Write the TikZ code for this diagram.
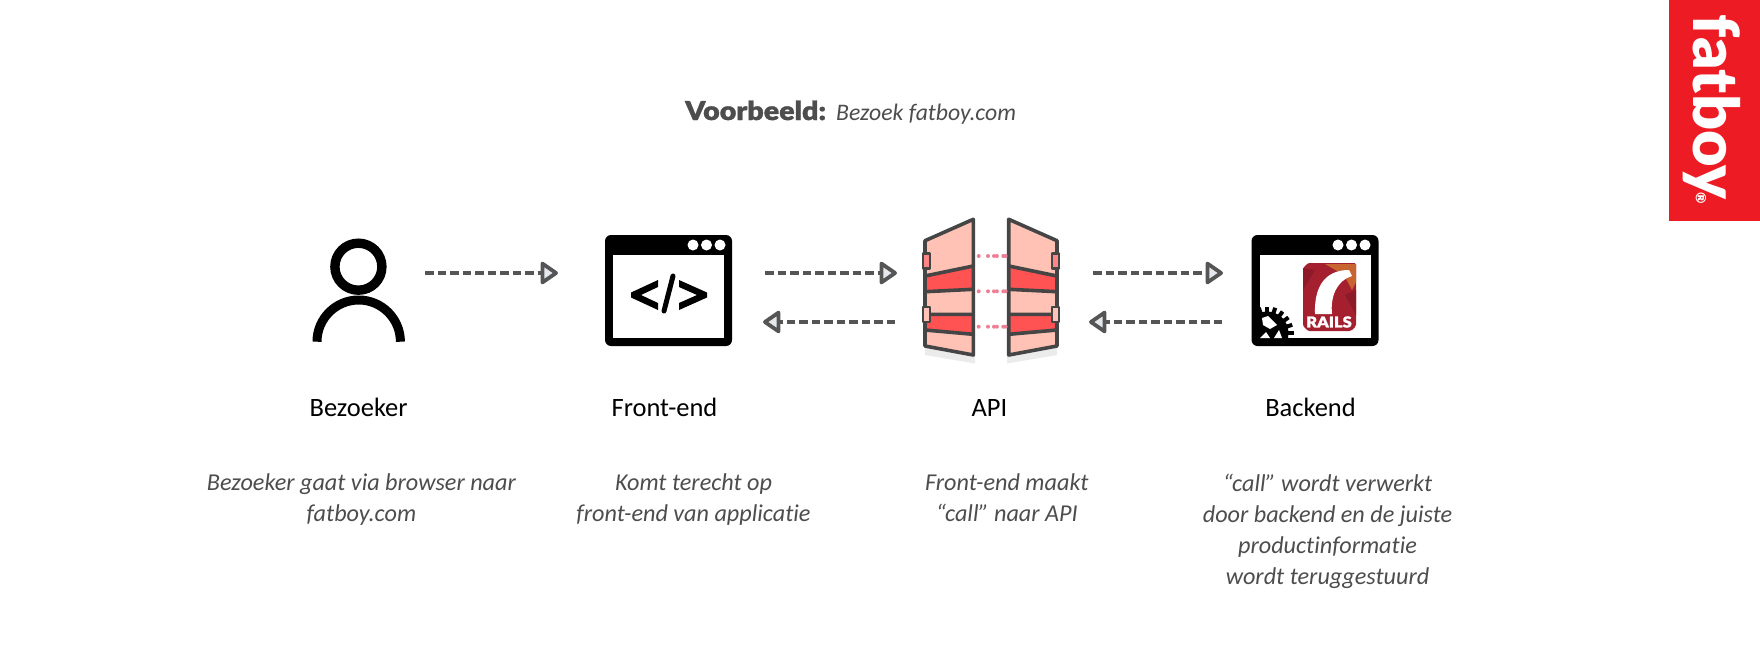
\documentclass[tikz,border=0pt]{standalone}
\usepackage{fontspec}
\setmainfont[Ligatures=NoCommon]{Carlito}
\newfontfamily\heavy{Lato Black}
\newfontfamily\heavywide[FakeStretch=1.1,FakeBold=1.2]{Lato Black}
\usetikzlibrary{arrows.meta}
\definecolor{txt}{HTML}{4D4D4D}
\definecolor{arrowc}{HTML}{555555}
\definecolor{tipfill}{HTML}{E4E8EC}
\definecolor{apil}{HTML}{FFC2B5}
\definecolor{apir}{HTML}{FF5252}
\definecolor{apis}{HTML}{454545}
\definecolor{apid}{HTML}{EE8095}
\definecolor{brand}{HTML}{ED1C24}
\definecolor{rails}{HTML}{A5202F}
\definecolor{railsd}{HTML}{8C1A28}
\definecolor{railso}{HTML}{C8642F}
\tikzset{
  win/.style={fill=black,rounded corners=6pt,minimum width=127pt,minimum height=111pt,inner sep=0pt},
  pane/.style={fill=white,minimum width=111pt,minimum height=83pt,inner sep=0pt},
  flow/.style={draw=arrowc,line width=4pt,dash pattern=on 8.5pt off 4pt,
    -{Triangle[length=19pt,width=25pt,line width=3.8pt,round,fill=tipfill]}},
  lbl/.style={font=\fontsize{26.5}{30}\selectfont,text=black,inner sep=0pt,anchor=base},
  desc/.style={font=\fontsize{24.2}{31}\selectfont\itshape,text=txt,inner sep=0pt,align=center,anchor=north},
  panel/.style={draw=apis,line width=3.6pt,line join=round},
}
\newcommand{\windots}[1]{%
  \foreach \dx in {0,13.5,27}{\fill[white] (#1+\dx,245) circle[radius=5.5pt];}}
\newcommand{\apipanel}{%
  \fill[black!8] (925,346) -- (925,355) -- (975,363.5) -- (975,355) -- cycle;
  \fill[apil] (925,240.7) -- (973.3,219.3) -- (973.3,355) -- (925,346) -- cycle;
  \fill[apir] (925,276) -- (973.3,266) -- (973.3,289.3) -- (925,291.7) -- cycle;
  \fill[apir] (925,314.3) -- (973.3,314.3) -- (973.3,334.3) -- (925,330) -- cycle;
  \draw[panel] (925,276) -- (973.3,266) (925,291.7) -- (973.3,289.3)
     (925,314.3) -- (973.3,314.3) (925,330) -- (973.3,334.3);
  \draw[panel] (925,240.7) -- (973.3,219.3) -- (973.3,355) -- (925,346) -- cycle;
  \draw[panel,fill=apir!70!white,line width=2.8pt] (923,253.5) rectangle (930,268.5);
  \draw[panel,fill=apil,line width=2.8pt] (923,307) rectangle (930,322);
  \foreach \yy in {256,291.3,326.7}{\foreach \xx in {978.7,988}{\fill[apid] (\xx,\yy) circle[radius=2pt];}}
}
\begin{document}
\begin{tikzpicture}[x=1pt,y=-1pt]
\useasboundingbox (0,0) rectangle (1760,648);
\fill[white] (0,0) rectangle (1760,648);

% brand tab
\node[fill=brand,minimum width=91pt,minimum height=221pt,inner sep=0pt] (tab) at (1714.5,110.5) {};
\node[rotate=-90,text=white,font=\fontsize{63}{63}\heavy,inner sep=0pt] (logo) at (1712,107) {fatboy};
\node[rotate=-90,text=white,font=\fontsize{14}{14}\heavy,inner sep=0pt] (reg) at (1701,198) {®};

% title
\node[anchor=base west,inner sep=0pt,text=txt,font=\fontsize{26}{30}\heavywide] (t1) at (685,120) {Voorbeeld:};
\node[anchor=base west,inner sep=0pt,text=txt,font=\fontsize{23.7}{30}\selectfont\itshape] (t2) at (836,120) {Bezoek fatboy.com};

% person
\node[draw=black,circle,line width=9.4pt,minimum size=47pt,inner sep=0pt] (person) at (358.4,266.7) {};
\draw[black,line width=9pt] (317,341.7) arc[start angle=180,end angle=0,radius=41.7pt];

% front-end window
\node[win] (front) at (668.5,290.5) {};
\node[pane] (frontpane) at (668.5,296.5) {};
\windots{693}
\fill[black] (658,280) -- (658,287) -- (641,295) -- (658,303) -- (658,310) -- (631,297.5) -- (631,292.5) -- cycle;
\fill[black] (679,280) -- (679,287) -- (697,295) -- (679,303) -- (679,310) -- (707,297.5) -- (707,292.5) -- cycle;
\draw[black,line width=5pt,line cap=round] (673,276) -- (664,311);

% API
\coordinate (api) at (991,290);
\apipanel
\begin{scope}[xscale=-1,xshift=-1982pt]
\apipanel
\end{scope}
\foreach \xx in {997.3,1006}{\foreach \yy in {256,291.3,326.7}{\fill[apid] (\xx-0.4,\yy) circle[radius=2pt];}}

% backend window
\node[win] (back) at (1315,290.5) {};
\node[pane] (backpane) at (1315.5,296.5) {};
\windots{1338}
\begin{scope}
  \clip (1258,295) rectangle (1371,338);
  \fill[black] (1267,333) circle[radius=21.5pt];
  \foreach \a in {0,18,...,342}{
    \fill[black,rotate around={\a:(1267,333)}] (1265,306.5) rectangle (1269,315);
  }
\end{scope}
\fill[white] (1262,318) -- (1268,316) -- (1277,325) -- (1270,329) -- (1263,325) -- cycle;
\fill[white] (1260,338) -- (1266,332) -- (1270,338) -- cycle;
\fill[white] (1274,338) -- (1279,330) -- (1282,338) -- cycle;
% rails logo
\fill[rails,rounded corners=1.5pt] (1303,268) -- (1308,263) -- (1356,263) -- (1356,326) -- (1351,331) -- (1308,331) -- (1303,326) -- cycle;
\fill[railso] (1356,264) -- (1325,264) -- (1344,275) -- (1352,290) -- (1356,282) -- cycle;
\fill[railsd] (1303,290) -- (1315,270) -- (1303,268) -- cycle;
\fill[railsd] (1345,295) -- (1356,290) -- (1356,315) -- cycle;
\fill[white] (1315,314) .. controls (1314,288) and (1324,270) .. (1349,270)
   -- (1352,276) .. controls (1338,280) and (1330,295) .. (1332,314) -- cycle;
\foreach \xx/\yy in {1311,288, 1309,300, 1314,278, 1326,268, 1338,267, 1334,288, 1331,296, 1338,279, 1344,276}{
  \fill[white] (\xx-1.5,\yy-1.5) rectangle (\xx+1.5,\yy+1.5);
}
\node[text=white,inner sep=0pt,font=\fontsize{15}{15}\heavywide] (railstxt) at (1329,322) {RAILS};

% connectors
\coordinate (p1) at (425,273); \coordinate (p2) at (558,273);
\coordinate (f1) at (765,273); \coordinate (f2) at (897,273);
\coordinate (f3) at (895,322); \coordinate (f4) at (763,322);
\coordinate (a1) at (1093,273); \coordinate (a2) at (1223,273);
\coordinate (a3) at (1222,322); \coordinate (a4) at (1089,322);
\draw[flow] (p1) -- (p2);
\draw[flow] (f1) -- (f2);
\draw[flow] (f3) -- (f4);
\draw[flow] (a1) -- (a2);
\draw[flow] (a3) -- (a4);

% labels
\node[lbl] (l1) at (358.6,416) {Bezoeker};
\node[lbl] (l2) at (664.5,416) {Front-end};
\node[lbl] (l3) at (989.4,416) {API};
\node[lbl] (l4) at (1310.5,416) {Backend};

\node[desc] (d1) at (361.4,473.5) {Bezoeker gaat via browser naar\\fatboy.com};
\node[desc] (d2) at (693.5,473.5) {Komt terecht op\\front-end van applicatie};
\node[desc] (d3) at (1006.8,473.5) {Front-end maakt\\“call” naar API};
\node[desc] (d4) at (1327.5,473.5) {“call” wordt verwerkt\\door backend en de juiste\\productinformatie\\wordt teruggestuurd};
\end{tikzpicture}
\end{document}
